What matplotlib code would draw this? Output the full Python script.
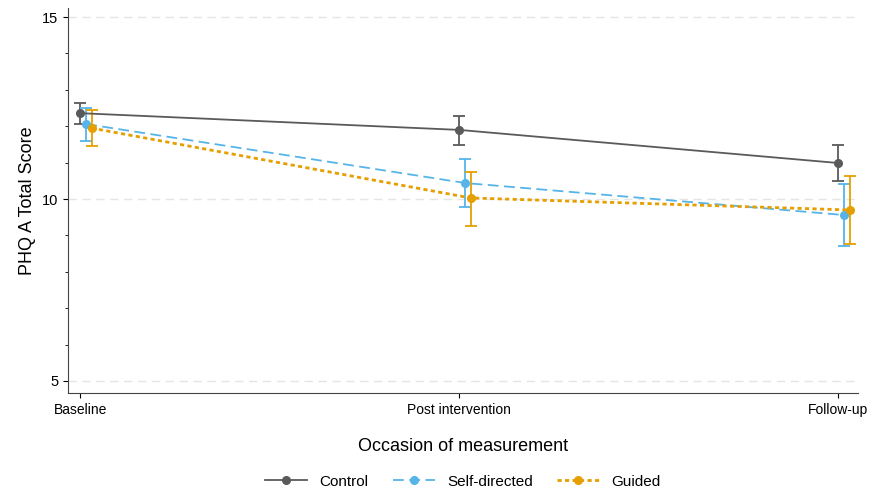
import numpy as np
import matplotlib.pyplot as plt

occasions = ["Baseline", "Post intervention", "Follow-up"]
groups = ["Control", "Self-directed", "Guided"]

control_mean = [12.36, 11.90, 10.99]
control_lo = [12.06, 11.48, 10.49]
control_hi = [12.64, 12.28, 11.48]

self_mean = [12.06, 10.44, 9.56]
self_lo = [11.60, 9.78, 8.71]
self_hi = [12.50, 11.10, 10.41]

guided_mean = [11.95, 10.03, 9.70]
guided_lo = [11.46, 9.26, 8.76]
guided_hi = [12.45, 10.74, 10.63]

colors = ["#5a5a5a", "#56B4E9", "#E69F00"]
styles = ["-", (0, (6, 3)), (0, (1.5, 1.2))]
widths = [1.3, 1.3, 2.0]
offsets = [0.0, 0.016, 0.030]

plt.rcParams['font.family'] = ['Liberation Sans', 'DejaVu Sans']

fig = plt.figure(figsize=(8.76, 4.95), dpi=100)
ax = fig.add_axes([68 / 876, 1 - 393 / 495, (858 - 68) / 876, (393 - 8) / 495])

x = np.arange(1, 4)
series = [(control_mean, control_lo, control_hi),
          (self_mean, self_lo, self_hi),
          (guided_mean, guided_lo, guided_hi)]

for i, (m, lo, hi) in enumerate(series):
    m = np.array(m)
    err = [m - np.array(lo), np.array(hi) - m]
    xs = x + offsets[i]
    ax.errorbar(xs, m, yerr=err, fmt='none', ecolor=colors[i], elinewidth=1.3,
                capsize=4, capthick=1.3, zorder=3)
    ax.plot(xs, m, color=colors[i], linestyle=styles[i], linewidth=widths[i],
            marker='o', markersize=5.5, label=groups[i], zorder=4)

ax.set_xlim(0.968, 3.052)
ax.set_ylim(4.67, 15.25)
ax.set_xticks(x)
ax.set_xticklabels(occasions, fontsize=10)
ax.set_yticks([5, 10, 15])
ax.set_yticks(np.arange(5, 16, 1), minor=True)
ax.tick_params(axis='y', labelsize=10.5)
ax.grid(axis='y', which='major', color='#e5e5e5', linestyle=(0, (6, 4)), linewidth=1)
ax.set_axisbelow(True)

for s in ['top', 'right']:
    ax.spines[s].set_visible(False)
for s in ['left', 'bottom']:
    ax.spines[s].set_color('#444444')

ax.set_ylabel("PHQ A Total Score", fontsize=13)
ax.set_xlabel("Occasion of measurement", fontsize=13, labelpad=15)

fig.legend(loc='lower center', ncol=3, frameon=False, fontsize=11,
           bbox_to_anchor=(463 / 876, -0.015), handlelength=2.75, handletextpad=0.8,
           columnspacing=1.6)

fig.savefig("out.png", dpi=100)
